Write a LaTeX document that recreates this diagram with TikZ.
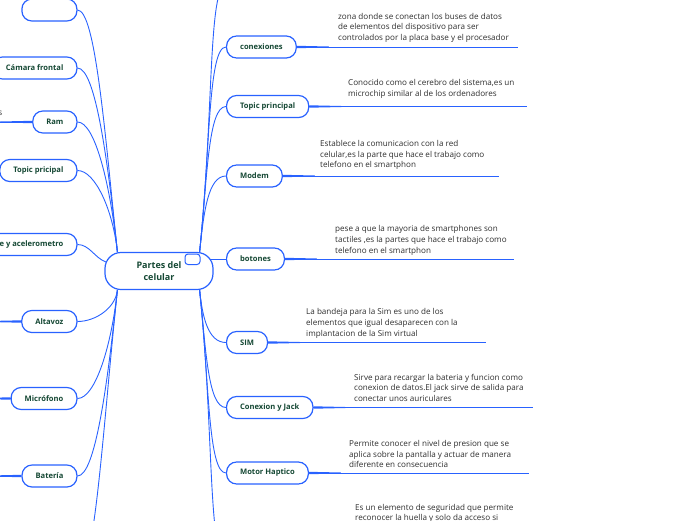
\documentclass[tikz,border=0pt]{standalone}
\usepackage{fontspec}
\setmainfont{Open Sans}
\usetikzlibrary{calc}
\definecolor{mapblue}{RGB}{41,98,255}
\definecolor{topicgreen}{RGB}{21,72,52}
\definecolor{notegray}{RGB}{45,45,45}
\tikzset{
    hub/.style={
        draw=mapblue, line width=1.2pt, fill=white, rounded corners=16pt,
        minimum width=108pt, minimum height=37pt, align=center, text=topicgreen,
        font=\fontsize{9}{12.5}\selectfont\bfseries
    },
    topic/.style={
        draw=mapblue, line width=1.2pt, fill=white, rounded corners=10pt,
        minimum height=22pt, inner xsep=13.5pt, inner ysep=0pt, text=topicgreen,
        font=\fontsize{7.6}{9}\selectfont\bfseries
    },
    note/.style={
        anchor=north west, inner sep=0pt, align=left, text=notegray,
        font=\fontsize{8.1}{10.7}\selectfont
    },
    branch/.style={draw=mapblue, line width=0.9pt},
    stem/.style={draw=mapblue, line width=1pt},
    taper/.style={fill=mapblue}
}

\begin{document}
\begin{tikzpicture}[x=1pt, y=1pt]
    \useasboundingbox (0,0) rectangle (696,-520);
    \clip (0,0) rectangle (696,-520);

    % central topic
    \node[hub] (hub) at (159,-271) {Partes del\\celular};
    \draw[mapblue, line width=1pt, fill=white, rounded corners=3pt] (185,-254) rectangle (200,-264.5);

    % right side
    \node[topic, anchor=west] (con) at (226,-47) {conexiones};
    \node[topic, anchor=west] (tpr) at (226,-106.5) {Topic principal};
    \node[topic, anchor=west] (mod) at (226,-176) {Modem};
    \node[topic, anchor=west] (bot) at (226,-259) {botones};
    \node[topic, anchor=west] (sim) at (226,-342.5) {SIM};
    \node[topic, anchor=west] (jack) at (226,-407.5) {Conexion y Jack};
    \node[topic, anchor=west] (hap) at (226,-473) {Motor Haptico};
    \coordinate (rtop) at (226,15);
    \coordinate (rbot) at (226,-560);

    % left side
    \node[topic, anchor=east, minimum width=55pt] (lt) at (77.5,-10) {};
    \node[topic, anchor=east] (cam) at (77.5,-68) {Cámara frontal};
    \node[topic, anchor=east] (ram) at (77.5,-122) {Ram};
    \node[topic, anchor=east] (tpp) at (77.5,-170.5) {Topic pricipal};
    \node[topic, anchor=east, text width=100pt, align=flush right] (sen) at (77.5,-244.5) {e y acelerometro};
    \node[topic, anchor=east] (alt) at (77.5,-321.5) {Altavoz};
    \node[topic, anchor=east] (mic) at (77.5,-398.5) {Micrófono};
    \node[topic, anchor=east] (bat) at (77.5,-476) {Batería};
    \coordinate (lbot) at (77,-575);
    \node[anchor=base east, inner sep=0pt, text=notegray, font=\fontsize{8.1}{9}\selectfont] (ramnote) at (2.5,-115) {s};

    % notes
    \node[note] (con-note) at (338,-12.8) {zona donde se conectan los buses de datos\\de elementos del dispositivo para ser\\controlados por la placa base y el procesador};
    \node[note] (tpr-note) at (348,-79.4) {Conocido como el cerebro del sistema,es un\\microchip similar al de los ordenadores};
    \node[note] (mod-note) at (320,-140.1) {Establece la comunicacion con la red\\celular,es la parte que hace el trabajo como\\telefono en el smartphon};
    \node[note] (bot-note) at (335,-225.4) {pese a que la mayoria de smartphones son\\tactiles ,es la partes que hace el trabajo como\\telefono en el smartphon};
    \node[note] (sim-note) at (306,-308.4) {La bandeja para la Sim es uno de los\\elementos que igual desaparecen con la\\implantacion de la Sim virtual};
    \node[note] (jack-note) at (354,-373.8) {Sirve para recargar la bateria y funcion como\\conexion de datos.El jack sirve de salida para\\conectar unos auriculares};
    \node[note] (hap-note) at (349,-440.1) {Permite conocer el nivel de presion que se\\aplica sobre la pantalla y actuar de manera\\diferente en consecuencia};
    \node[note] (rbot-note) at (355,-503.8) {Es un elemento de seguridad que permite\\reconocer la huella y solo da acceso si};

    % branches from the hub
    \coordinate (hubNE) at ($(hub.north east)+(-14,0)$);
    \coordinate (hubSE) at ($(hub.south east)+(-14,0)$);
    \coordinate (hubNW) at ($(hub.north west)+(13,0)$);
    \coordinate (hubSW) at ($(hub.south west)+(13,0)$);
    \coordinate (hubE) at ($(hub.east)+(-3,12)$);
    \coordinate (hubW) at ($(hub.west)+(1.5,9)$);
    \foreach \n/\d in {rtop/134, con/103, tpr/74, mod/40}
        \draw[branch] (hubNE) to[out=84, in=180, out distance=\d, in distance=18] (\n);
    \foreach \n/\d in {sim/27, jack/60, hap/92, rbot/135}
        \draw[branch] (hubSE) to[out=-84, in=180, out distance=\d, in distance=18] (\n);
    \draw[branch] (hubE) -- (bot.west);
    \foreach \n/\d in {lt/120, cam/92, ram/65, tpp/41}
        \draw[branch] (hubNW) to[out=96, in=0, out distance=\d, in distance=18] (\n);
    \draw[branch] (hubW) to[out=160, in=0, out distance=12, in distance=12] (sen);
    \foreach \n/\d in {alt/18, mic/55, bat/93, lbot/143}
        \draw[branch] (hubSW) to[out=-96, in=0, out distance=\d, in distance=18] (\n);

    % lines under the notes
    \coordinate (con-end) at (518,-47);
    \coordinate (tpr-end) at (527,-106.5);
    \coordinate (mod-end) at (499,-176);
    \coordinate (bot-end) at (514,-259);
    \coordinate (sim-end) at (486,-342.5);
    \coordinate (jack-end) at (533,-407.5);
    \coordinate (hap-end) at (529,-473);
    \foreach \n in {con,tpr,mod,bot,sim,jack,hap} {
        \draw[stem] (\n.east) -- (\n-end);
        \fill[taper] ($(\n.east)+(0,1.2)$) -- ++(32,-0.7) -- ++(0,-1) -- ($(\n.east)+(0,-1.2)$) -- cycle;
    }
    \coordinate (ram-end) at (-5,-122);
    \coordinate (alt-end) at (-5,-321.5);
    \coordinate (mic-end) at (-5,-398.5);
    \coordinate (bat-end) at (-5,-476);
    \foreach \n in {ram,alt,mic,bat} {
        \draw[stem] (\n.west) -- (\n-end);
        \fill[taper] ($(\n.west)+(0,1.2)$) -- ++(-32,-0.7) -- ++(0,-1) -- ($(\n.west)+(0,-1.2)$) -- cycle;
    }
\end{tikzpicture}
\end{document}
